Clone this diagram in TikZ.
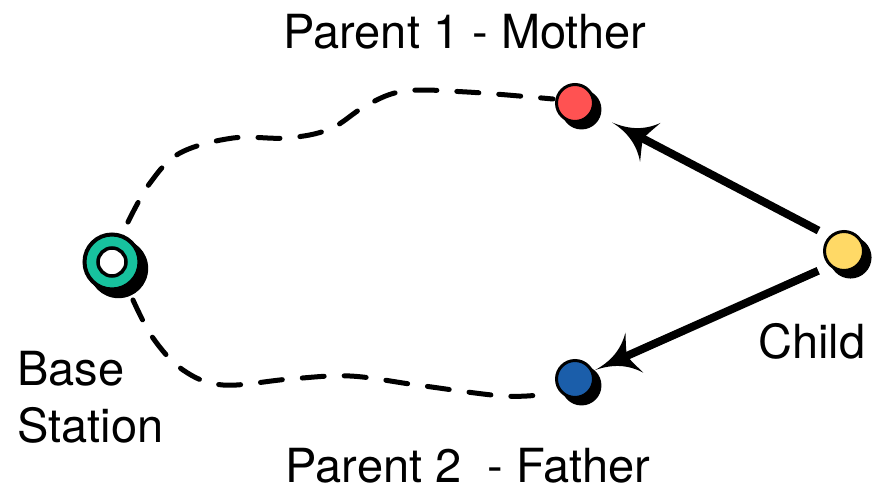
\documentclass[tikz,border=0pt]{standalone}
\usepackage{fontspec}
\setmainfont{TeX Gyre Heros}
\usetikzlibrary{arrows.meta,shadows}
\definecolor{momred}{HTML}{FF5252}
\definecolor{dadblue}{HTML}{1B5EAA}
\definecolor{kidyellow}{HTML}{FFD966}
\definecolor{basegreen}{HTML}{17C29E}
% arrow head with hollowed, swept-back sides
\pgfdeclarearrow{
  name=Swept,
  setup code={
    \pgfarrowssettipend{0pt}
    \pgfarrowssetlineend{-28pt}
    \pgfarrowssetvisualbackend{-35pt}
    \pgfarrowssetbackend{-43pt}
    \pgfarrowshullpoint{0pt}{0pt}
    \pgfarrowshullpoint{-43pt}{22pt}
    \pgfarrowshullpoint{-43pt}{-22pt}
  },
  drawing code={
    \pgfpathmoveto{\pgfqpoint{0pt}{0pt}}
    \pgfpathcurveto{\pgfqpoint{-18pt}{1.5pt}}{\pgfqpoint{-32pt}{8pt}}{\pgfqpoint{-43pt}{22pt}}
    \pgfpathcurveto{\pgfqpoint{-39pt}{12pt}}{\pgfqpoint{-36pt}{5pt}}{\pgfqpoint{-35pt}{0pt}}
    \pgfpathcurveto{\pgfqpoint{-36pt}{-5pt}}{\pgfqpoint{-39pt}{-12pt}}{\pgfqpoint{-43pt}{-22pt}}
    \pgfpathcurveto{\pgfqpoint{-32pt}{-8pt}}{\pgfqpoint{-18pt}{-1.5pt}}{\pgfqpoint{0pt}{0pt}}
    \pgfpathclose
    \pgfusepathqfill
  }
}
\begin{document}
\begin{tikzpicture}[x=1pt,y=-1pt,
  shade black/.style={drop shadow={shadow xshift=6pt,shadow yshift=-6pt,shadow scale=1.08,opacity=1,fill=black}},
  dot/.style={circle,draw=black,line width=3pt,inner sep=0pt,minimum size=37pt,shade black},
  link/.style={line width=5pt,line cap=round,dash pattern=on 22pt off 20pt},
  push/.style={line width=8pt,-Swept},
  lbl/.style={font=\fontsize{47}{57}\selectfont,inner sep=0pt}]
\useasboundingbox (0,0) rectangle (880,490);

% dashed radio links from the base station to both parents
\coordinate (t0) at (128,222);
\coordinate (t1) at (553,99);
\coordinate (b0) at (133,300);
\coordinate (b1) at (547,394);
\draw[link] plot[smooth,tension=0.6] coordinates {(t0) (150,183) (180,153) (233,138) (287,138) (330,129) (367,105) (405,91) (467,92) (t1)};
\draw[link] plot[smooth,tension=0.6] coordinates {(b0) (153,338) (183,370) (223,385) (290,379) (350,376) (417,385) (503,396) (b1)};

% stations
\node[circle,draw=black,line width=4pt,fill=basegreen,minimum size=55pt,inner sep=0pt,shade black] (base) at (112,262) {};
\node[circle,draw=black,line width=3.5pt,fill=white,minimum size=28pt,inner sep=0pt] (hole) at (base) {};
\node[dot,fill=momred] (mother) at (575,103) {};
\node[dot,fill=dadblue] (father) at (575,379) {};
\node[dot,fill=kidyellow,minimum size=39pt] (child) at (844,251) {};

% child reports to both parents
\draw[push,shorten <=12pt,shorten >=22pt] (child.north west) -- (mother);
\draw[push,shorten <=12pt,shorten >=2pt] (child.south west) -- (father);

% labels
\node[lbl,anchor=base] (mlabel) at (465,48) {Parent 1 - Mother};
\node[lbl,anchor=base] (flabel) at (468,482) {Parent 2\ \ - Father};
\node[lbl,anchor=base west] (clabel) at (758,358) {Child};
\node[lbl,anchor=north west,align=left] (blabel) at (17,351) {Base\\Station};
\end{tikzpicture}
\end{document}
